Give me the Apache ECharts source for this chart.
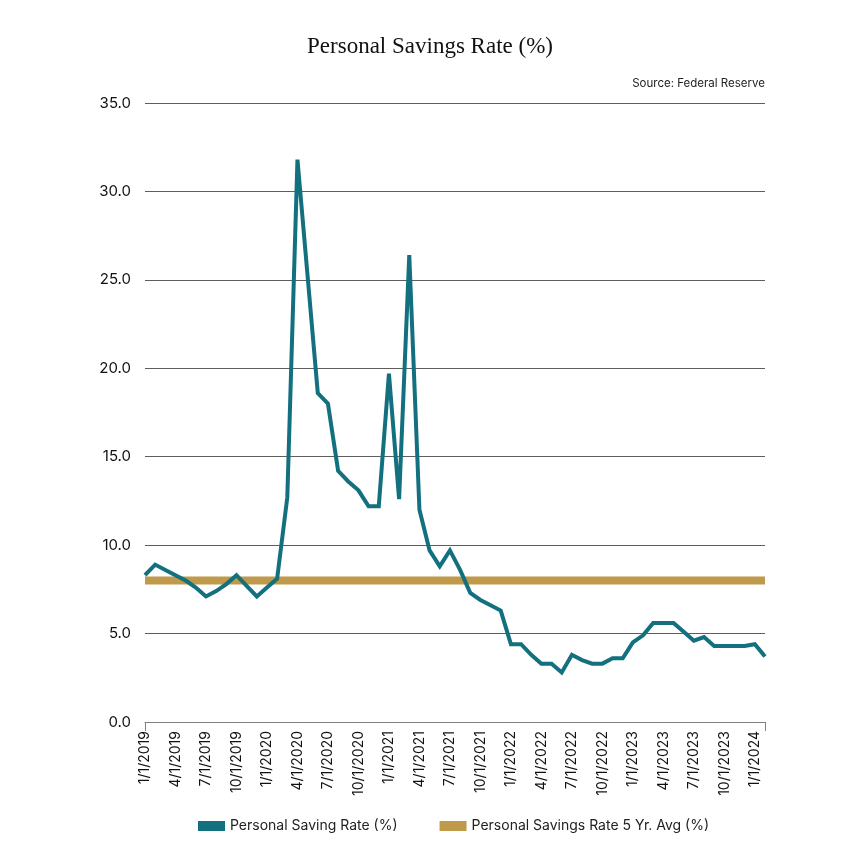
<!DOCTYPE html>
<html>
<head>
<meta charset="utf-8">
<script src="https://cdn.jsdelivr.net/npm/echarts@6/dist/echarts.min.js"></script>
<style>
html,body{margin:0;padding:0;background:#fff;}
#chart{width:860px;height:860px;}
</style>
</head>
<body>
<div id="chart"></div>
<script>
const months = [
  "1/1/2019","2/1/2019","3/1/2019","4/1/2019","5/1/2019","6/1/2019","7/1/2019","8/1/2019","9/1/2019","10/1/2019","11/1/2019","12/1/2019",
  "1/1/2020","2/1/2020","3/1/2020","4/1/2020","5/1/2020","6/1/2020","7/1/2020","8/1/2020","9/1/2020","10/1/2020","11/1/2020","12/1/2020",
  "1/1/2021","2/1/2021","3/1/2021","4/1/2021","5/1/2021","6/1/2021","7/1/2021","8/1/2021","9/1/2021","10/1/2021","11/1/2021","12/1/2021",
  "1/1/2022","2/1/2022","3/1/2022","4/1/2022","5/1/2022","6/1/2022","7/1/2022","8/1/2022","9/1/2022","10/1/2022","11/1/2022","12/1/2022",
  "1/1/2023","2/1/2023","3/1/2023","4/1/2023","5/1/2023","6/1/2023","7/1/2023","8/1/2023","9/1/2023","10/1/2023","11/1/2023","12/1/2023",
  "1/1/2024","2/1/2024"
];

const savingRate = [
  8.3, 8.9, 8.6, 8.3, 8.0, 7.6, 7.1, 7.4, 7.8, 8.3, 7.7, 7.1,
  7.6, 8.1, 12.7, 31.8, 25.2, 18.6, 18.0, 14.2, 13.6, 13.1, 12.2, 12.2,
  19.7, 12.6, 26.4, 12.0, 9.7, 8.8, 9.7, 8.6, 7.3, 6.9, 6.6, 6.3,
  4.4, 4.4, 3.8, 3.3, 3.3, 2.8, 3.8, 3.5, 3.3, 3.3, 3.6, 3.6,
  4.5, 4.9, 5.6, 5.6, 5.6, 5.1, 4.6, 4.8, 4.3, 4.3, 4.3, 4.3,
  4.4, 3.7
];

const fiveYearAvg = [
  8.0, 8.0, 8.0, 8.0, 8.0, 8.0, 8.0, 8.0, 8.0, 8.0, 8.0, 8.0,
  8.0, 8.0, 8.0, 8.0, 8.0, 8.0, 8.0, 8.0, 8.0, 8.0, 8.0, 8.0,
  8.0, 8.0, 8.0, 8.0, 8.0, 8.0, 8.0, 8.0, 8.0, 8.0, 8.0, 8.0,
  8.0, 8.0, 8.0, 8.0, 8.0, 8.0, 8.0, 8.0, 8.0, 8.0, 8.0, 8.0,
  8.0, 8.0, 8.0, 8.0, 8.0, 8.0, 8.0, 8.0, 8.0, 8.0, 8.0, 8.0,
  8.0, 8.0
];

const seriesNames = ["Personal Saving Rate (%)", "Personal Savings Rate 5 Yr. Avg (%)"];
const titleText = "Personal Savings Rate (%)";
const sourceText = "Source: Federal Reserve";

const SANS = "Inter, 'Noto Sans', sans-serif";
const chart = echarts.init(document.getElementById('chart'), null, {renderer: 'canvas'});

chart.setOption({
  animation: false,
  backgroundColor: '#ffffff',
  title: {
    text: titleText,
    left: 'center',
    top: 30,
    textStyle: {
      fontFamily: "'Liberation Serif', 'DejaVu Serif', serif",
      fontSize: 23,
      fontWeight: 'normal',
      color: '#111111'
    }
  },
  graphic: [{
    type: 'text',
    right: 95,
    top: 78,
    style: {
      text: sourceText,
      font: "11.5px " + SANS,
      fill: '#222222'
    }
  }],
  legend: {
    left: 193,
    top: 814,
    itemWidth: 27,
    itemHeight: 10,
    itemGap: 42,
    icon: 'rect',
    textStyle: {fontFamily: SANS, fontSize: 14, color: '#222222'},
    data: seriesNames
  },
  grid: {left: 145, right: 95, top: 103, bottom: 138, containLabel: false},
  xAxis: {
    type: 'category',
    data: months,
    boundaryGap: false,
    axisLine: {show: true, lineStyle: {color: '#808080', width: 1}},
    axisTick: {
      show: true,
      length: 9,
      interval: function (idx) { return idx === 0 || idx === months.length - 1; },
      lineStyle: {color: '#808080', width: 1}
    },
    axisLabel: {
      interval: 2,
      rotate: 90,
      margin: 9,
      fontFamily: SANS,
      fontSize: 14,
      color: '#111111'
    },
    splitLine: {show: false}
  },
  yAxis: {
    type: 'value',
    min: 0,
    max: 35,
    interval: 5,
    axisLine: {show: false},
    axisTick: {show: false},
    axisLabel: {
      margin: 14,
      fontFamily: SANS,
      fontSize: 15,
      color: '#111111',
      formatter: function (v) { return v.toFixed(1); }
    },
    splitLine: {show: true, lineStyle: {color: '#5e5e5e', width: 1}}
  },
  series: [
    {
      name: seriesNames[0],
      type: 'line',
      data: savingRate,
      symbol: 'none',
      z: 5,
      itemStyle: {color: '#12707f'},
      lineStyle: {color: '#12707f', width: 4, join: 'miter', miterLimit: 10}
    },
    {
      name: seriesNames[1],
      type: 'line',
      data: fiveYearAvg,
      symbol: 'none',
      z: 3,
      itemStyle: {color: '#bf9a4a'},
      lineStyle: {color: '#bf9a4a', width: 8}
    }
  ]
});
</script>
</body>
</html>
